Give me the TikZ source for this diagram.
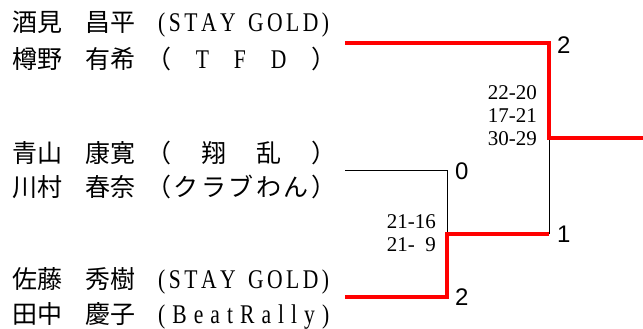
\documentclass[tikz,border=0pt]{standalone}
\usepackage{fontspec}
\setmainfont{Liberation Serif}
\newfontfamily\jpfont{Noto Sans CJK JP}
\newfontfamily\teamfont[FakeStretch=0.8]{Liberation Serif}
\newfontfamily\seedfont{Liberation Sans}
\newcommand{\spreadtext}[2]{\makebox[#1][s]{#2}}
\newcommand{\playerline}[3]{\makebox[73pt][l]{\jpfont #1}\makebox[73pt][l]{\jpfont #2}#3}
\begin{document}
\begin{tikzpicture}
  [
    x=1pt, y=-1pt,
    entry/.style={anchor=base west, inner sep=0pt, font=\fontsize{25}{25}\selectfont},
    result/.style={anchor=west, inner sep=0pt, font=\seedfont\fontsize{24}{24}\selectfont},
    scores/.style={anchor=east, inner sep=0pt, align=right, font=\fontsize{21}{23}\selectfont},
    winner/.style={red, line width=4pt},
    loser/.style={black, line width=0.9pt}
  ]
  \useasboundingbox (0,0) rectangle (643,329);
  % players
  \node [entry] (sakami) at (12,32) {\playerline{酒見}{昌平}{\teamfont\fontsize{27}{27}\selectfont\spreadtext{171pt}{(\hfil S\hfil T\hfil A\hfil Y\hfil\ \hfil G\hfil O\hfil L\hfil D\hfil)}}};
  \node [entry] (taruno) at (12,69) {\playerline{樽野}{有希}{\teamfont\fontsize{27}{27}\selectfont\kern-12pt\spreadtext{190pt}{{\jpfont\fontsize{25}{25}\selectfont （}\hfil T\hfil F\hfil D\hfil{\jpfont\fontsize{25}{25}\selectfont ）}}}};
  \node [entry] (aoyama) at (12,162) {\playerline{青山}{康寛}{\jpfont\kern-12pt\spreadtext{190pt}{（\hfil 翔\hfil 乱\hfil ）}}};
  \node [entry] (kawamura) at (12,196) {\playerline{川村}{春奈}{\jpfont\kern-12pt\spreadtext{190pt}{（\hfil ク\hfil ラ\hfil ブ\hfil わ\hfil ん\hfil ）}}};
  \node [entry] (sato) at (12,288) {\playerline{佐藤}{秀樹}{\teamfont\fontsize{27}{27}\selectfont\spreadtext{171pt}{(\hfil S\hfil T\hfil A\hfil Y\hfil\ \hfil G\hfil O\hfil L\hfil D\hfil)}}};
  \node [entry] (tanaka) at (12,323) {\playerline{田中}{慶子}{\teamfont\fontsize{27}{27}\selectfont\spreadtext{171pt}{(\hfil B\hfil e\hfil a\hfil t\hfil R\hfil a\hfil l\hfil l\hfil y\hfil)}}};
  % bracket points
  \coordinate (top) at (345,43);
  \coordinate (mid) at (345,170);
  \coordinate (bot) at (345,297);
  \coordinate (j1) at (447,234);
  \coordinate (j2) at (549,138);
  \coordinate (out) at (643,138);
  % first round
  \draw [loser] (mid) -- (mid -| j1) -- (j1);
  \draw [winner] (bot) -- (bot -| j1) -- (j1) -- (j1 -| j2);
  % final
  \draw [loser] (j1 -| j2) -- (j2);
  \draw [winner] (top) -- (top -| j2) -- (j2) -- (out);
  % games won
  \node [result] (w1) at (557,45) {2};
  \node [result] (w2) at (455,171) {0};
  \node [result] (w3) at (557,234) {1};
  \node [result] (w4) at (455,297) {2};
  % scores
  \node [scores] (finalscore) at (537,116) {22-20\\17-21\\30-29};
  \node [scores] (semiscore) at (436,233.5) {21-16\\21-\enspace9};
\end{tikzpicture}
\end{document}
